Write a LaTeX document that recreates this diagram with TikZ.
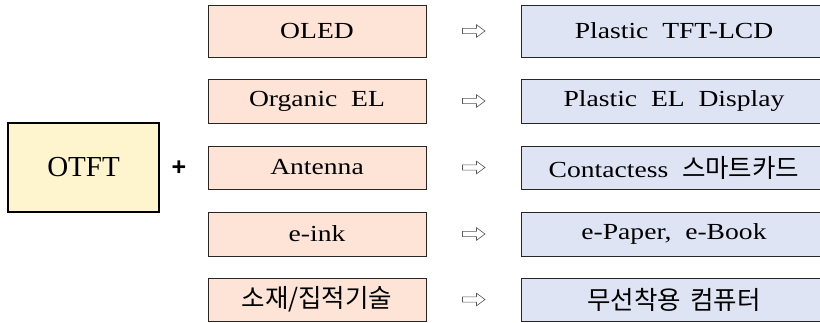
\documentclass[tikz,border=0pt]{standalone}
\usepackage{fontspec}
\setmainfont{Liberation Serif}[FakeStretch=1.2,WordSpace=2]
\newfontfamily\otftfont{Liberation Serif}
\newfontfamily\krfont{Noto Sans CJK KR}[WordSpace=1.6]
\newfontfamily\plusfont{Liberation Sans}
\definecolor{coreFill}{HTML}{FEF5CE}
\definecolor{techFill}{HTML}{FDE4D6}
\definecolor{appFill}{HTML}{DEE4F4}
\tikzset{
  x=1pt, y=-1pt,
  corebox/.style={draw=black, line width=1.8pt, fill=coreFill, inner sep=0pt,
    minimum width=151pt, minimum height=89pt, font=\otftfont\fontsize{29}{30}\selectfont},
  techbox/.style={draw=black!85, line width=0.9pt, fill=techFill, inner sep=0pt,
    minimum width=218pt, minimum height=44pt, font=\fontsize{23}{24}\selectfont},
  appbox/.style={draw=black!85, line width=0.9pt, fill=appFill, inner sep=0pt,
    minimum width=306pt, minimum height=44pt, font=\fontsize{23}{24}\selectfont},
  hollowarrow/.style={draw=black!65, fill=white, line width=0.6pt, line join=miter}
}
\newcommand{\kor}[1]{{\krfont\fontsize{25.5}{27}\selectfont #1}}
\begin{document}
\begin{tikzpicture}
\useasboundingbox (0,0) rectangle (820,322);
% core technology
\node[corebox] (otft) at (83.5,167.5) {OTFT};
\node[font=\plusfont\bfseries\fontsize{25}{26}\selectfont] (plus) at (179,168) {+};
% enabling technologies
\node[techbox, minimum height=52pt] (t1) at (317,31) {OLED};
\node[techbox] (t2) at (317,101) {Organic EL};
\node[techbox, minimum height=43pt] (t3) at (317,167.5) {Antenna};
\node[techbox] (t4) at (317,234) {e-ink};
\node[techbox, minimum height=43pt] (t5) at (317,299.5) {\kor{소재/집적기술}};
% applications
\node[appbox, minimum height=52pt] (a1) at (674,31) {Plastic TFT-LCD};
\node[appbox] (a2) at (674,101) {Plastic EL Display};
\node[appbox, minimum height=43pt] (a3) at (674,167.5) {Contactess\hspace{0.6em}\kor{스마트카드}};
\node[appbox] (a4) at (674,234) {e-Paper, e-Book};
\node[appbox, minimum height=43pt] (a5) at (674,299.5) {\kor{무선착용 컴퓨터}\hspace{6pt}};
% hollow arrows between technology and application
\foreach \i in {1,...,5} {
  \path (t\i.east) -- (a\i.west) coordinate[pos=0.5] (m\i);
  \draw[hollowarrow, shift={(m\i)}]
    (-11,-2.6) -- (3,-2.6) -- (3,-6.3) -- (11.5,0) -- (3,6.3) -- (3,2.6) -- (-11,2.6) -- cycle;
}
\end{tikzpicture}
\end{document}
